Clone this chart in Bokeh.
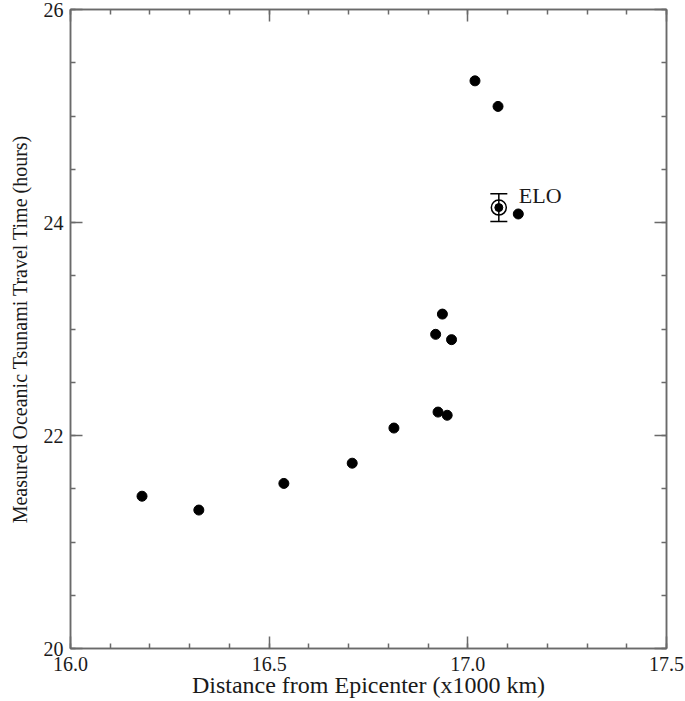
from bokeh.plotting import figure
from bokeh.models import (Range1d, LinearAxis, SingleIntervalTicker,
                          PrintfTickFormatter, Label, CustomJSTickFormatter)
from bokeh.embed import file_html
from bokeh.resources import INLINE

# ---- data ----
distance = [16.180, 16.323, 16.537, 16.709, 16.814, 16.919, 16.936,
            16.959, 16.925, 16.948, 17.018, 17.076, 17.127]
travel_time = [21.43, 21.30, 21.55, 21.74, 22.07, 22.95, 23.14,
               22.90, 22.22, 22.19, 25.33, 25.09, 24.08]
elo_distance = [17.078]
elo_time = [24.14]
elo_error = [0.13]
elo_label = "ELO"
x_label = "Distance from Epicenter (x1000 km)"
y_label = "Measured Oceanic Tsunami Travel Time (hours)"

FONT = "Liberation Serif"
AXIS_COLOR = "#6a6a6a"

p = figure(width=685, height=701, output_backend="svg", toolbar_location=None,
           x_range=Range1d(16.0, 17.5), y_range=Range1d(20, 26),
           min_border_left=70, min_border_top=9, min_border_right=19,
           min_border_bottom=53)
p.xgrid.visible = False
p.ygrid.visible = False
p.outline_line_color = AXIS_COLOR
p.outline_line_width = 1.5
p.background_fill_color = "white"
p.border_fill_color = "white"


def style_axis(ax, show_labels):
    ax.axis_line_color = AXIS_COLOR
    ax.axis_line_width = 1.5
    ax.major_tick_line_color = AXIS_COLOR
    ax.minor_tick_line_color = AXIS_COLOR
    ax.major_tick_line_width = 1.5
    ax.minor_tick_line_width = 1.5
    ax.major_tick_in = 12
    ax.major_tick_out = 0
    ax.minor_tick_in = 5
    ax.minor_tick_out = 0
    if show_labels:
        ax.major_label_text_font = FONT
        ax.major_label_text_font_size = "20px"
        ax.major_label_text_color = "#1a1a1a"
        ax.axis_label_text_font = FONT
        ax.axis_label_text_font_style = "normal"
        ax.axis_label_text_color = "#1a1a1a"
    else:
        ax.formatter = CustomJSTickFormatter(code="return ''")
        ax.major_label_standoff = 0
        ax.major_label_text_font_size = "0px"


xt = SingleIntervalTicker(interval=0.5, num_minor_ticks=5)
yt = SingleIntervalTicker(interval=2, num_minor_ticks=4)

p.xaxis.ticker = xt
p.xaxis.formatter = PrintfTickFormatter(format="%.1f")
p.xaxis.axis_label = x_label
p.yaxis.ticker = yt
p.yaxis.formatter = PrintfTickFormatter(format="%d")
p.yaxis.axis_label = y_label
style_axis(p.xaxis[0], True)
style_axis(p.yaxis[0], True)
p.xaxis.axis_label_text_font_size = "24px"
p.yaxis.axis_label_text_font_size = "20px"
p.xaxis.major_label_standoff = 8
p.xaxis.axis_label_standoff = -2
p.yaxis.major_label_standoff = 7
p.yaxis.axis_label_standoff = 10

top = LinearAxis(ticker=SingleIntervalTicker(interval=0.5, num_minor_ticks=5))
right = LinearAxis(ticker=SingleIntervalTicker(interval=2, num_minor_ticks=4))
style_axis(top, False)
style_axis(right, False)
p.add_layout(top, "above")
p.add_layout(right, "right")

# data points
p.scatter(distance, travel_time, size=10, color="black")

# ELO with error bar
elo_lo = [t - e for t, e in zip(elo_time, elo_error)]
elo_hi = [t + e for t, e in zip(elo_time, elo_error)]
p.segment(elo_distance, elo_lo, elo_distance, elo_hi, line_color="black", line_width=1.5)
p.scatter(elo_distance, elo_lo, marker="dash", size=17, line_color="black", line_width=1.5)
p.scatter(elo_distance, elo_hi, marker="dash", size=17, line_color="black", line_width=1.5)
p.scatter(elo_distance, elo_time, size=15, fill_color=None, line_color="black", line_width=1.5)
p.scatter(elo_distance, elo_time, size=8, color="black")

p.add_layout(Label(x=elo_distance[0], y=elo_time[0], text=elo_label,
                   x_offset=20, y_offset=12, text_font=FONT,
                   text_font_size="22px", text_baseline="alphabetic",
                   text_color="#1a1a1a"))

open("out.html", "w").write(file_html(p, INLINE))
